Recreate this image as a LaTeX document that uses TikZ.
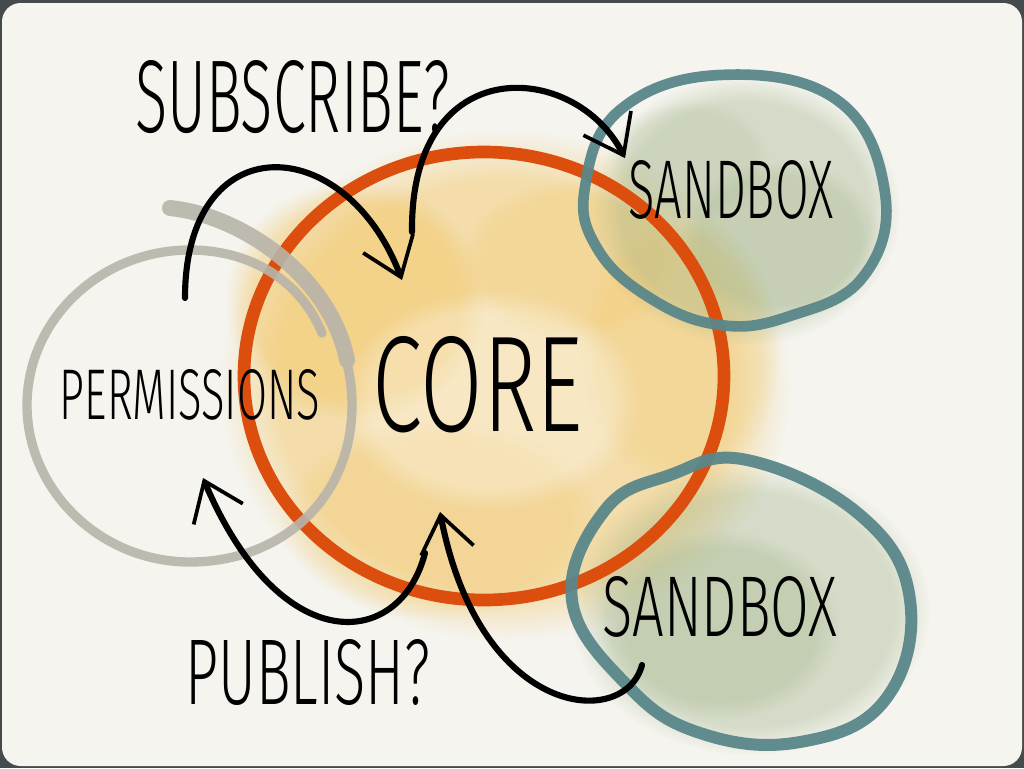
\documentclass[tikz,border=0pt]{standalone}
\usepackage{fontspec}
\usepackage{graphicx}
\usetikzlibrary{arrows.meta,fadings}
\newfontfamily\hand{Fira Sans Light}
\newlength\pxu
\setlength\pxu{0.75pt}
\definecolor{frame}{HTML}{454B4C}
\definecolor{paper}{HTML}{F5F4EF}
\definecolor{coreorange}{HTML}{DC4E0E}
\definecolor{coreyellow}{HTML}{F3BE4C}
\definecolor{sandteal}{HTML}{5A878A}
\definecolor{sandgreen}{HTML}{9AAF80}
\definecolor{permgray}{HTML}{B8B4AA}
\begin{document}
\begin{tikzpicture}[x=0.75pt,y=-0.75pt,
  blob/.style={path fading=circle with fuzzy edge 20 percent},
  orangering/.style={draw=coreorange,line width=9.5pt},
  sandring/.style={draw=sandteal,line width=8pt,draw opacity=0.95},
  permring/.style={draw=permgray,line width=7pt,line cap=round},
  handtext/.style={inner sep=0pt,text=black,font=\hand},
  harrow/.style={draw=black,line width=4.6pt,line cap=round,
    -{Straight Barb[length=27pt,width=40pt,line width=2.8pt]}}]
\useasboundingbox (0,0) rectangle (1024,768);
% background
\fill[frame] (0,0) rectangle (1024,768);
\fill[paper,rounded corners=14pt] (2,3) rectangle (1022,766);
% core blob
\fill[coreyellow,opacity=0.42,blob] (505,385) ellipse [x radius=285,y radius=255];
\fill[coreyellow,opacity=0.35,blob] (355,300) ellipse [x radius=130,y radius=120];
\fill[coreyellow,opacity=0.18,blob] (570,260) ellipse [x radius=110,y radius=80];
\fill[coreyellow,opacity=0.2,blob] (440,520) ellipse [x radius=160,y radius=100];
\fill[coreyellow,opacity=0.18,blob] (680,350) ellipse [x radius=100,y radius=140];
\fill[white,opacity=0.3,blob] (490,400) ellipse [x radius=150,y radius=110];
% sandbox blobs
\fill[sandgreen,opacity=0.35,blob] (745,210) ellipse [x radius=155,y radius=135];
\fill[sandgreen,opacity=0.25,blob] (780,240) ellipse [x radius=100,y radius=80];
\fill[sandgreen,opacity=0.15,blob] (690,160) ellipse [x radius=80,y radius=60];
\fill[sandgreen,opacity=0.35,blob] (750,610) ellipse [x radius=180,y radius=145];
\fill[sandgreen,opacity=0.28,blob] (720,625) ellipse [x radius=120,y radius=95];
% core ring
\draw[orangering] (484,376) ellipse [x radius=240,y radius=224];
% permissions ring
\begin{scope}[transparency group,opacity=0.9]
\draw[permring] (170,208) .. controls (260,220) and (352,300) .. (352,405)
  .. controls (352,500) and (280,562) .. (190,562)
  .. controls (100,562) and (27,490) .. (27,405)
  .. controls (27,320) and (100,250) .. (190,250)
  .. controls (250,250) and (300,280) .. (322,333);
\draw[permgray,line width=12pt,line cap=round] (170,208) .. controls (240,215) and (330,275) .. (347,360);
\end{scope}
% sandbox rings
\draw[sandring] plot[smooth cycle,tension=0.7] coordinates {(720,75) (837,100) (885,193) (863,277) (790,316) (720,325) (650,298) (597,248) (585,187) (620,110)};
\draw[sandring,line width=9pt] plot[smooth cycle,tension=0.7] coordinates {(747,460) (860,515) (910,600) (885,700) (800,742) (700,733) (627,685) (572,600) (605,510) (670,475)};
% texts
\node[handtext] (core) at (478,385) {\resizebox{210\pxu}{95\pxu}{CORE}};
\node[handtext] (perm) at (190,395) {\resizebox{260\pxu}{50\pxu}{PERMISSIONS}};
\node[handtext] (sb1) at (731,190) {\resizebox{205\pxu}{58\pxu}{SANDBOX}};
\node[handtext] (sb2) at (720,607) {\resizebox{235\pxu}{60\pxu}{SANDBOX}};
\node[handtext] (sub) at (293,97) {\resizebox{315\pxu}{72\pxu}{SUBSCRIBE?}};
\node[handtext] (pub) at (308,672) {\resizebox{245\pxu}{65\pxu}{PUBLISH?}};
% arrows
\coordinate (a1s) at (185,298);
\coordinate (a1e) at (402,280);
\coordinate (a2s) at (412,232);
\coordinate (a2e) at (625,158);
\coordinate (a3s) at (425,553);
\coordinate (a3e) at (203,478);
\coordinate (a4s) at (642,665);
\coordinate (a4e) at (440,512);
\draw[harrow] (a1s) .. controls (185,125) and (345,130) .. (a1e);
\draw[harrow] (a2s) .. controls (410,50) and (575,60) .. (a2e);
\draw[harrow] (a3s) .. controls (400,650) and (280,660) .. (a3e);
\draw[harrow] (a4s) .. controls (625,730) and (480,720) .. (a4e);
\end{tikzpicture}
\end{document}
